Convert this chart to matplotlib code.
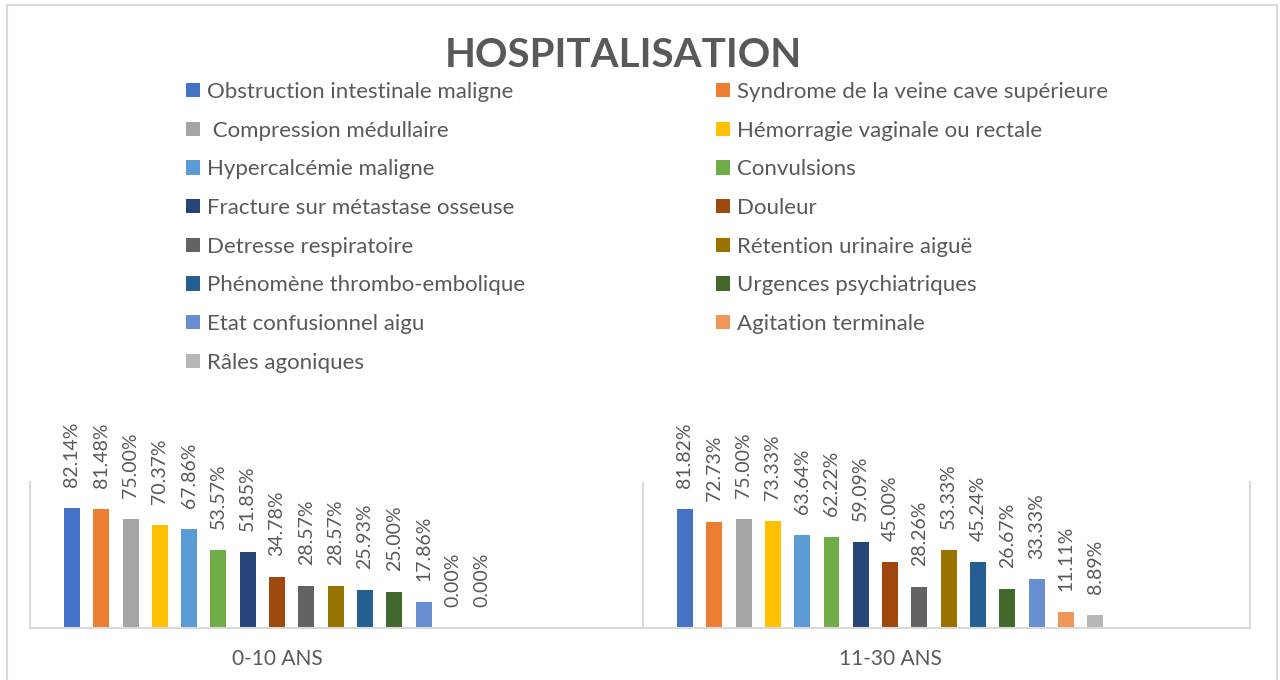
import matplotlib
matplotlib.use("Agg")
import matplotlib.pyplot as plt
import numpy as np
from matplotlib.patches import Rectangle, Patch

plt.rcParams['font.family'] = ['Lato', 'DejaVu Sans']

# categories on the x axis
categories = ["0-10 ANS", "11-30 ANS"]

series_names = [
    "Obstruction intestinale maligne",
    "Syndrome de la veine cave supérieure",
    " Compression médullaire",
    "Hémorragie vaginale ou rectale",
    "Hypercalcémie maligne",
    "Convulsions",
    "Fracture sur métastase osseuse",
    "Douleur",
    "Detresse respiratoire",
    "Rétention urinaire aiguë",
    "Phénomène thrombo-embolique",
    "Urgences psychiatriques",
    "Etat confusionnel aigu",
    "Agitation terminale",
    "Râles agoniques",
]

# percentages per series, one value per age group
values_0_10 = [82.14, 81.48, 75.00, 70.37, 67.86, 53.57, 51.85, 34.78,
               28.57, 28.57, 25.93, 25.00, 17.86, 0.00, 0.00]
values_11_30 = [81.82, 72.73, 75.00, 73.33, 63.64, 62.22, 59.09, 45.00,
                28.26, 53.33, 45.24, 26.67, 33.33, 11.11, 8.89]

colors = ["#4472C4", "#ED7D31", "#A5A5A5", "#FFC000", "#5B9BD5", "#70AD47",
          "#264478", "#9E480E", "#636363", "#997300", "#255E91", "#43682B",
          "#698ED0", "#F1975A", "#B7B7B7"]

text_grey = "#595959"
line_grey = "#D9D9D9"

fig = plt.figure(figsize=(12.8, 6.8), dpi=100)

# outer chart border
fig.patches.append(Rectangle((7 / 1280, -0.01), 1270 / 1280, 1 - 5 / 680 + 0.01,
                             transform=fig.transFigure, fill=False,
                             edgecolor=line_grey, linewidth=1.5))

ax = fig.add_axes([30 / 1280, 1 - 628 / 680, 1220 / 1280, 146 / 680])

x = np.arange(len(categories))
n = len(series_names)
pitch = 0.0478
width = 0.026

handles = []
for i in range(n):
    vals = [values_0_10[i], values_11_30[i]]
    bars = ax.bar(x + (i - (n - 1) / 2) * pitch, vals, width=width,
                  color=colors[i], label=series_names[i])
    ax.bar_label(bars, labels=[f"{v:.2f}%" for v in vals], rotation=90,
                 padding=15, color=text_grey, fontsize=14)
    handles.append(Patch(facecolor=colors[i], label=series_names[i]))

ax.set_ylim(0, 100)
ax.set_xlim(-0.403, 1.587)
ax.axvline(0.597, color=line_grey, linewidth=1.5)

ax.spines["top"].set_visible(False)
for side in ["left", "right", "bottom"]:
    ax.spines[side].set_color(line_grey)
    ax.spines[side].set_linewidth(1.5)

ax.set_yticks([])
ax.set_xticks(x)
ax.set_xticklabels(categories, color=text_grey, fontsize=15)
ax.tick_params(axis="x", length=0, pad=15)

fig.text(0.487, 0.918, "HOSPITALISATION", ha="center", va="center",
         fontsize=29, fontweight="bold", color=text_grey)

# legend laid out row by row, like the spreadsheet chart
left_col = handles[0::2]
right_col = handles[1::2]
leg_kw = dict(frameon=False, fontsize=16, handlelength=0.63, handleheight=0.63,
              handletextpad=0.3, labelspacing=0.84, borderpad=0,
              borderaxespad=0, labelcolor=text_grey, loc="upper left")
fig.legend(handles=left_col, bbox_to_anchor=(186 / 1280, 1 - 82 / 680), **leg_kw)
fig.legend(handles=right_col, bbox_to_anchor=(716 / 1280, 1 - 82 / 680), **leg_kw)

fig.savefig("out.png", dpi=100)
